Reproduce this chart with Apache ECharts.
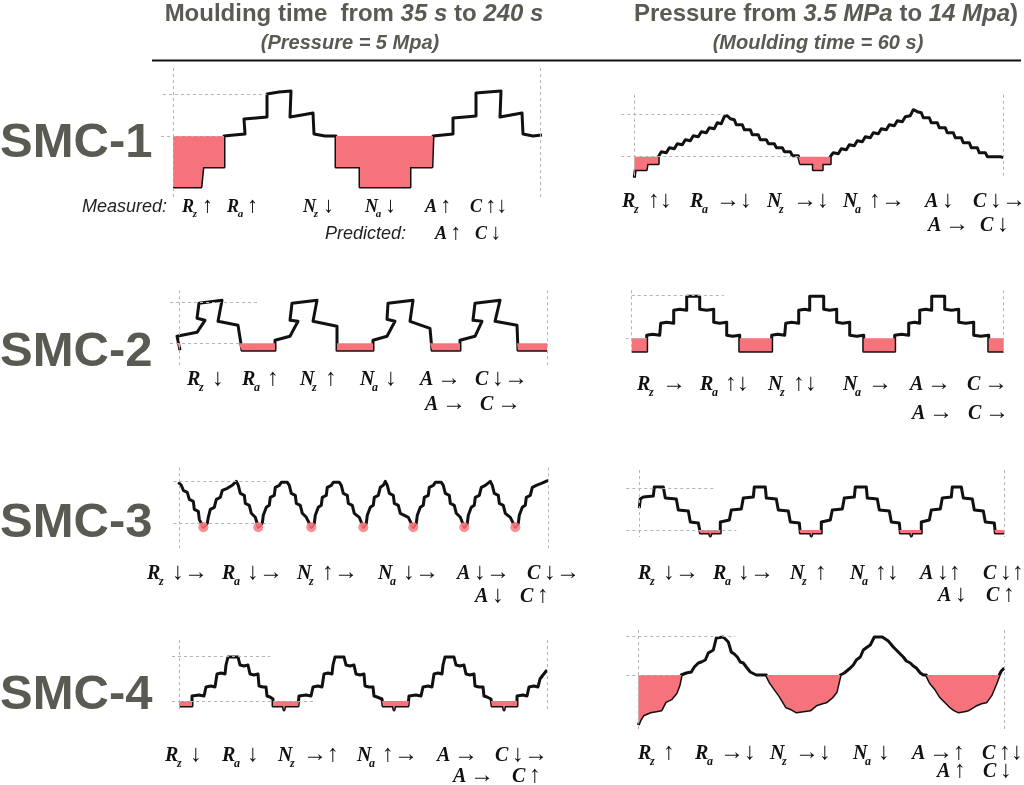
<!DOCTYPE html>
<html>
<head>
<meta charset="utf-8">
<title>SMC surface profiles</title>
<script src="https://cdn.jsdelivr.net/npm/echarts@6/dist/echarts.min.js"></script>
<style>
  html, body { margin: 0; background: #fff; }
  #chart { width: 1024px; height: 785px; }
</style>
</head>
<body>
<div id="chart"></div>
<script>
// profiles: [position along scan, height relative to reference level]
var smc1Time = [[0,-51],[28,-51],[30,-31],[51,-31],[51,0],[61,1],[72,2],[71,17],[83,18],[94,19],[94,42],[106,44],[118,45],[117,19],[129,21],[140,23],[141,2],[152,0],[163,0],[163,-31],[187,-31],[187,-51],[237,-51],[237,-31],[259,-31],[260,0],[270,1],[280,2],[280,18],[292,19],[303,20],[303,43],[315,44],[328,45],[327,19],[338,21],[349,23],[350,2],[360,0],[369,1]];
var smc1Press = [[0,-21],[1,-13],[12,-13],[13,-7],[24,-7],[24,0],[27,5],[32,4],[35,9],[40,8],[43,13],[48,12],[51,17],[56,16],[59,21],[64,20],[67,25],[72,24],[75,29],[80,28],[83,34],[87,33],[90,40],[93,41],[96,38],[100,37],[102,32],[108,32],[110,27],[116,27],[118,22],[124,22],[126,17],[132,17],[134,13],[140,13],[142,9],[148,9],[150,5],[156,5],[158,1],[164,1],[166,0],[166,-7],[179,-7],[179,-13],[188,-13],[188,-7],[196,-7],[196,0],[199,4],[204,3],[207,8],[212,7],[215,12],[220,11],[223,16],[228,15],[231,20],[236,19],[239,24],[244,23],[247,28],[252,27],[255,32],[260,31],[263,36],[268,35],[271,40],[276,41],[279,47],[283,45],[287,44],[289,39],[295,39],[297,34],[303,34],[305,29],[311,29],[313,24],[319,24],[321,19],[327,19],[329,14],[335,14],[337,9],[343,9],[345,4],[351,4],[353,0],[361,0],[366,0],[369,-1]];
var smc2Time = [[1,-7],[-2,7],[18,11],[26,23],[18,25],[20,40],[43,43],[39,22],[59,18],[63,-7],[96,-7],[96,3],[111,7],[119,22],[111,23],[113,40],[138,43],[134,22],[158,17],[158,-7],[194,-7],[194,3],[208,7],[216,22],[208,24],[209,40],[234,43],[231,22],[251,15],[253,-7],[281,-7],[281,3],[296,7],[303,22],[294,23],[296,40],[321,43],[316,22],[338,18],[339,-7],[368,-7]];
var smc2Press = [[0,-13],[2,-15],[3,-13],[15,-13],[15,3],[21,4],[28,3],[29,15],[35,16],[42,15],[42,28],[48,29],[55,28],[55,42],[68,42],[68,29],[75,28],[82,29],[82,16],[88,15],[95,16],[95,3],[101,2],[108,3],[108,-13],[124,-13],[125,-15],[126,-13],[140,-13],[140,3],[146,4],[153,3],[154,15],[160,16],[167,15],[167,28],[173,29],[178,28],[178,42],[192,42],[192,29],[198,28],[205,29],[205,16],[211,15],[218,16],[218,3],[225,2],[232,3],[232,-13],[247,-13],[248,-15],[249,-13],[263,-13],[263,3],[270,4],[277,3],[277,15],[283,16],[288,15],[288,28],[294,29],[300,28],[300,42],[313,42],[313,29],[320,28],[327,29],[327,16],[334,15],[342,16],[342,3],[349,2],[357,3],[357,-13],[372,-13]];
var smc3Time = [[-1,41],[2,38],[4,33],[8,31],[10,24],[14,22],[15,14],[19,12],[20,4],[24,-4],[28,0],[29,6],[31,14],[35,16],[37,24],[41,26],[43,33],[48,35],[53,38],[57,42],[59,38],[61,30],[65,28],[66,20],[70,18],[72,10],[76,6],[79,-4],[83,0],[84,8],[87,16],[90,18],[91,26],[95,28],[96,36],[100,38],[102,41],[108,41],[110,38],[112,30],[116,28],[117,20],[121,18],[123,10],[127,6],[132,-4],[135,0],[136,8],[139,16],[142,18],[143,26],[147,28],[148,36],[152,38],[154,41],[160,41],[162,38],[164,30],[168,28],[169,20],[173,18],[175,10],[180,6],[184,-4],[187,0],[188,8],[191,16],[194,18],[195,26],[199,28],[201,36],[204,38],[206,42],[208,38],[210,30],[214,28],[215,20],[219,18],[221,10],[229,6],[234,-4],[237,0],[238,8],[241,16],[244,18],[245,26],[249,28],[250,36],[254,38],[256,41],[262,41],[264,38],[266,30],[270,28],[271,20],[275,18],[277,10],[281,6],[285,-4],[288,0],[289,8],[292,16],[295,18],[296,26],[300,28],[302,36],[306,38],[311,42],[313,38],[315,30],[319,28],[320,20],[324,18],[326,10],[331,6],[336,-4],[339,0],[340,8],[343,16],[346,18],[347,26],[351,28],[353,36],[357,38],[362,40],[369,43]];
var smc3TimeValleys = [24, 79, 132, 184, 234, 285, 336];
var smc3Press = [[0,22],[1,31],[4,33],[14,34],[15,43],[24,43],[26,32],[37,31],[39,20],[49,19],[51,8],[59,7],[61,-3],[70,-3],[71,-6],[72,-3],[81,-3],[81,8],[90,10],[92,20],[102,21],[104,32],[114,33],[115,43],[126,43],[127,32],[137,31],[139,20],[149,19],[151,8],[160,7],[161,-3],[171,-3],[172,-6],[173,-3],[182,-3],[182,8],[191,10],[193,20],[203,21],[205,32],[215,33],[216,43],[227,43],[228,32],[238,31],[240,20],[250,19],[252,8],[260,7],[261,-3],[271,-3],[272,-6],[273,-3],[282,-3],[282,8],[290,10],[292,20],[301,21],[303,32],[312,33],[313,43],[322,43],[324,32],[333,31],[335,20],[344,19],[346,8],[355,7],[356,-3],[365,-3]];
var smc4Time = [[0,-5],[13,-5],[13,5],[20,6],[25,5],[27,14],[32,15],[36,14],[38,27],[42,28],[46,27],[47,36],[49,44],[59,44],[61,36],[65,35],[69,36],[71,27],[75,26],[79,27],[80,15],[84,14],[87,14],[88,5],[91,4],[94,2],[94,-5],[104,-5],[105,-9],[106,-5],[119,-5],[120,5],[127,6],[132,5],[134,14],[139,15],[143,14],[145,27],[149,28],[153,27],[154,36],[156,44],[165,44],[167,36],[171,35],[175,36],[177,27],[181,26],[185,27],[186,15],[190,14],[194,14],[195,5],[198,4],[203,2],[204,-5],[214,-5],[215,-9],[216,-5],[229,-5],[230,5],[237,6],[242,5],[244,14],[249,15],[253,14],[255,27],[259,28],[263,27],[264,36],[266,44],[275,44],[277,36],[281,35],[285,36],[287,27],[291,26],[295,27],[296,15],[300,14],[304,14],[305,5],[308,4],[312,2],[313,-5],[324,-5],[325,-9],[326,-5],[338,-5],[338,5],[344,6],[348,5],[350,14],[355,15],[359,14],[361,22],[364,26],[368,31]];
var smc4Press = [[0,-50],[2,-45],[5,-40],[12,-37],[18,-36],[23,-35],[27,-27],[33,-24],[38,-18],[41,-10],[43,0],[48,2],[53,3],[56,8],[60,12],[63,13],[67,15],[70,22],[75,25],[78,37],[80,39],[85,38],[87,36],[90,33],[93,23],[96,21],[99,18],[102,13],[105,12],[108,8],[112,3],[118,0],[123,0],[128,0],[132,-8],[137,-15],[142,-22],[148,-32],[153,-34],[158,-37],[165,-36],[172,-35],[178,-30],[184,-28],[188,-27],[194,-22],[198,-17],[202,0],[206,2],[212,7],[215,10],[218,15],[222,18],[225,25],[229,28],[232,30],[236,38],[238,39],[244,38],[246,36],[250,34],[252,33],[255,28],[258,25],[262,21],[265,18],[268,14],[272,12],[275,9],[278,7],[282,2],[285,0],[288,0],[292,-8],[297,-14],[302,-22],[307,-27],[312,-32],[316,-35],[320,-37],[326,-36],[330,-35],[335,-32],[338,-30],[343,-28],[348,-27],[353,-20],[358,-8],[361,0],[363,4],[366,7]];

// trend labels: [symbol, subscript, arrows]; one-element entries are plain words
var lbl1T = [['Measured:'],['R','z','↑'],['R','a','↑'],['N','z','↓'],['N','a','↓'],['A','','↑'],['C','','↑↓']];
var lbl1TP = [['Predicted:'],['A','','↑'],['C','','↓']];
var lbl1P = [['R','z','↑↓'],['R','a','→↓'],['N','z','→↓'],['N','a','↑→'],['A','','↓'],['C','','↓→']];
var lbl1PP = [['A','','→'],['C','','↓']];
var lbl2T = [['R','z','↓'],['R','a','↑'],['N','z','↑'],['N','a','↓'],['A','','→'],['C','','↓→']];
var lbl2TP = [['A','','→'],['C','','→']];
var lbl2P = [['R','z','→'],['R','a','↑↓'],['N','z','↑↓'],['N','a','→'],['A','','→'],['C','','→']];
var lbl2PP = [['A','','→'],['C','','→']];
var lbl3T = [['R','z','↓→'],['R','a','↓→'],['N','z','↑→'],['N','a','↓→'],['A','','↓→'],['C','','↓→']];
var lbl3TP = [['A','','↓'],['C','','↑']];
var lbl3P = [['R','z','↓→'],['R','a','↓→'],['N','z','↑'],['N','a','↑↓'],['A','','↓↑'],['C','','↓↑']];
var lbl3PP = [['A','','↓'],['C','','↑']];
var lbl4T = [['R','z','↓'],['R','a','↓'],['N','z','→↑'],['N','a','↑→'],['A','','→'],['C','','↓→']];
var lbl4TP = [['A','','→'],['C','','↑']];
var lbl4P = [['R','z','↑'],['R','a','→↓'],['N','z','→↓'],['N','a','↓'],['A','','→↑'],['C','','↑↓']];
var lbl4PP = [['A','','↑'],['C','','↓']];

var rowNames = ['SMC-1', 'SMC-2', 'SMC-3', 'SMC-4'];

// ---- layout ----
var RED = '#f7737b';
var GUIDE = '#b4b4b4';
var HEAD = '#5a5a52';

var panels = [
  { data: smc1Time,  x0: 173,   y0: 136,   w: 367, yMax: 68, yMin: -62, top: 42, topGuide: [-10, 94], baseGuide: [-12, 51] },
  { data: smc1Press, x0: 634.3, y0: 156.7, w: 369, yMax: 62, yMin: -22, top: 42, topGuide: [-13, 91], baseGuide: [-13, 166] },
  { data: smc2Time,  x0: 179,   y0: 343.3, w: 368, yMax: 53, yMin: -22, top: 41, topGuide: [-9, 78],  baseGuide: [-9, 64] },
  { data: smc2Press, x0: 631.7, y0: 338.3, w: 372, yMax: 48, yMin: -14, top: 43, topGuide: [0, 92],   baseGuide: [-6, 15] },
  { data: smc3Time,  x0: 179.3, y0: 523.3, w: 369, yMax: 56, yMin: -25, top: 42, topGuide: [-6, 91],  baseGuide: [-6, 91], dots: smc3TimeValleys },
  { data: smc3Press, x0: 639.3, y0: 530,   w: 365, yMax: 60, yMin: -7,  top: 42, topGuide: [-13, 76], baseGuide: [-13, 97] },
  { data: smc4Time,  x0: 179,   y0: 701,   w: 368, yMax: 61, yMin: -11, top: 45, topGuide: [-7, 91],  baseGuide: [-7, 136] },
  { data: smc4Press, x0: 638.3, y0: 675,   w: 366, yMax: 45, yMin: -55, top: 39, topGuide: [-12, 97], baseGuide: [-12, 43] }
];

var labelRows = [
  { tokens: lbl1T,  xs: [82, 182, 227, 303, 365, 425, 470], y: 207, size: 18, subGap: 20 },
  { tokens: lbl1TP, xs: [325, 435, 475], y: 234, size: 18, subGap: 20 },
  { tokens: lbl1P,  xs: [622, 690, 767, 843, 925, 973], y: 202, size: 20, subGap: 26 },
  { tokens: lbl1PP, xs: [928, 980], y: 226, size: 20, subGap: 26 },
  { tokens: lbl2T,  xs: [187, 242, 300, 360, 420, 475], y: 380, size: 20, subGap: 25 },
  { tokens: lbl2TP, xs: [425, 480], y: 405, size: 20, subGap: 25 },
  { tokens: lbl2P,  xs: [637, 700, 768, 843, 910, 967], y: 385, size: 20, subGap: 25 },
  { tokens: lbl2PP, xs: [912, 968], y: 414, size: 20, subGap: 25 },
  { tokens: lbl3T,  xs: [147, 222, 297, 378, 457, 527], y: 574, size: 20, subGap: 25 },
  { tokens: lbl3TP, xs: [475, 520], y: 597, size: 20, subGap: 25 },
  { tokens: lbl3P,  xs: [638, 713, 790, 850, 920, 983], y: 574, size: 20, subGap: 25 },
  { tokens: lbl3PP, xs: [938, 986], y: 596, size: 20, subGap: 25 },
  { tokens: lbl4T,  xs: [165, 222, 278, 357, 437, 495], y: 756, size: 20, subGap: 25 },
  { tokens: lbl4TP, xs: [453, 512], y: 777, size: 20, subGap: 25 },
  { tokens: lbl4P,  xs: [638, 695, 770, 853, 912, 982], y: 754, size: 20, subGap: 25 },
  { tokens: lbl4PP, xs: [937, 983], y: 772, size: 20, subGap: 25 }
];
var rowNameY = [143, 352, 523, 695];

var chart = echarts.init(document.getElementById('chart'), null, { renderer: 'canvas' });

var grids = [], xAxes = [], yAxes = [], series = [];
var XPAD = -16;
panels.forEach(function (p, i) {
  grids.push({ left: p.x0 + XPAD, top: p.y0 - p.yMax, width: p.w + 6 - XPAD, height: p.yMax - p.yMin });
  xAxes.push({ type: 'value', gridIndex: i, min: XPAD, max: p.w + 6, show: false });
  yAxes.push({ type: 'value', gridIndex: i, min: p.yMin, max: p.yMax, show: false });

  var guides = [
    [{ coord: [0, p.yMax] }, { coord: [0, p.yMin] }],
    [{ coord: [p.w, p.yMax] }, { coord: [p.w, p.yMin] }],
    [{ coord: [p.topGuide[0], p.top] }, { coord: [p.topGuide[1], p.top] }],
    [{ coord: [p.baseGuide[0], 0] }, { coord: [p.baseGuide[1], 0] }]
  ];
  series.push({
    type: 'line', xAxisIndex: i, yAxisIndex: i, data: p.data,
    symbol: 'none', z: 3, animation: false, silent: true,
    lineStyle: { color: '#111', width: 3, join: 'round' },
    markLine: {
      silent: true, symbol: ['none', 'none'], animation: false,
      label: { show: false },
      lineStyle: { color: GUIDE, width: 1, type: [3, 3] },
      data: guides
    }
  });
  series.push({
    type: 'line', xAxisIndex: i, yAxisIndex: i, z: 4, animation: false, silent: true,
    data: p.data.map(function (d) { return [d[0], Math.min(d[1], 0)]; }),
    symbol: 'none',
    lineStyle: { width: 0, opacity: 0 },
    areaStyle: { color: RED, opacity: 1, origin: 0 }
  });
  if (p.dots) {
    series.push({
      type: 'scatter', xAxisIndex: i, yAxisIndex: i, z: 5, animation: false, silent: true,
      data: p.dots.map(function (x) { return [x, -4]; }),
      symbolSize: 10, itemStyle: { color: RED }
    });
  }
});

var els = [];
// headers
els.push({ type: 'text', x: 354, y: 14, style: {
  text: '{n|Moulding time  from }{i|35 s}{n| to }{i|240 s}', align: 'center', verticalAlign: 'middle', fill: HEAD,
  rich: { n: { fontFamily: 'Liberation Sans', fontSize: 24, fontWeight: 'bold' },
          i: { fontFamily: 'Liberation Sans', fontSize: 24, fontWeight: 'bold', fontStyle: 'italic' } } } });
els.push({ type: 'text', x: 350, y: 43, style: {
  text: '(Pressure = 5 Mpa)', align: 'center', verticalAlign: 'middle', fill: HEAD,
  font: 'italic bold 20px "Liberation Sans"' } });
els.push({ type: 'text', x: 826, y: 14, style: {
  text: '{n|Pressure from }{i|3.5 MPa}{n| to }{i|14 Mpa}{n|)}', align: 'center', verticalAlign: 'middle', fill: HEAD,
  rich: { n: { fontFamily: 'Liberation Sans', fontSize: 24, fontWeight: 'bold' },
          i: { fontFamily: 'Liberation Sans', fontSize: 24, fontWeight: 'bold', fontStyle: 'italic' } } } });
els.push({ type: 'text', x: 818, y: 43, style: {
  text: '(Moulding time = 60 s)', align: 'center', verticalAlign: 'middle', fill: HEAD,
  font: 'italic bold 20px "Liberation Sans"' } });
els.push({ type: 'line', shape: { x1: 152, y1: 60.5, x2: 1021, y2: 60.5 }, style: { stroke: '#111', lineWidth: 2 } });

rowNames.forEach(function (n, i) {
  els.push({ type: 'text', x: 0, y: rowNameY[i], style: {
    text: n, verticalAlign: 'middle', fill: HEAD, font: 'bold 49px "Liberation Sans"' } });
});

labelRows.forEach(function (row) {
  row.tokens.forEach(function (t, k) {
    var x = row.xs[k], y = row.y, s = row.size;
    if (t.length === 1) {
      els.push({ type: 'text', x: x, y: y, style: { text: t[0], verticalAlign: 'middle', fill: '#222',
        font: 'italic ' + s + 'px "Liberation Sans"' } });
      return;
    }
    els.push({ type: 'text', x: x, y: y, style: { text: t[0], verticalAlign: 'middle', fill: '#111',
      font: 'italic bold ' + s + 'px "Liberation Serif"' } });
    if (t[1]) {
      els.push({ type: 'text', x: x + s * 0.6, y: y + s * 0.4, style: { text: t[1], verticalAlign: 'middle', fill: '#111',
        font: 'italic bold ' + Math.round(s * 0.6) + 'px "Liberation Serif"' } });
    }
    els.push({ type: 'text', x: x + (t[1] ? row.subGap : s * 0.85), y: y - 1, style: { text: t[2], verticalAlign: 'middle', fill: '#111',
      font: Math.round(s * 1.2) + 'px "Liberation Serif", "DejaVu Serif"' } });
  });
});

chart.setOption({
  backgroundColor: '#fff',
  animation: false,
  grid: grids,
  xAxis: xAxes,
  yAxis: yAxes,
  series: series,
  graphic: { elements: els }
});
</script>
</body>
</html>
